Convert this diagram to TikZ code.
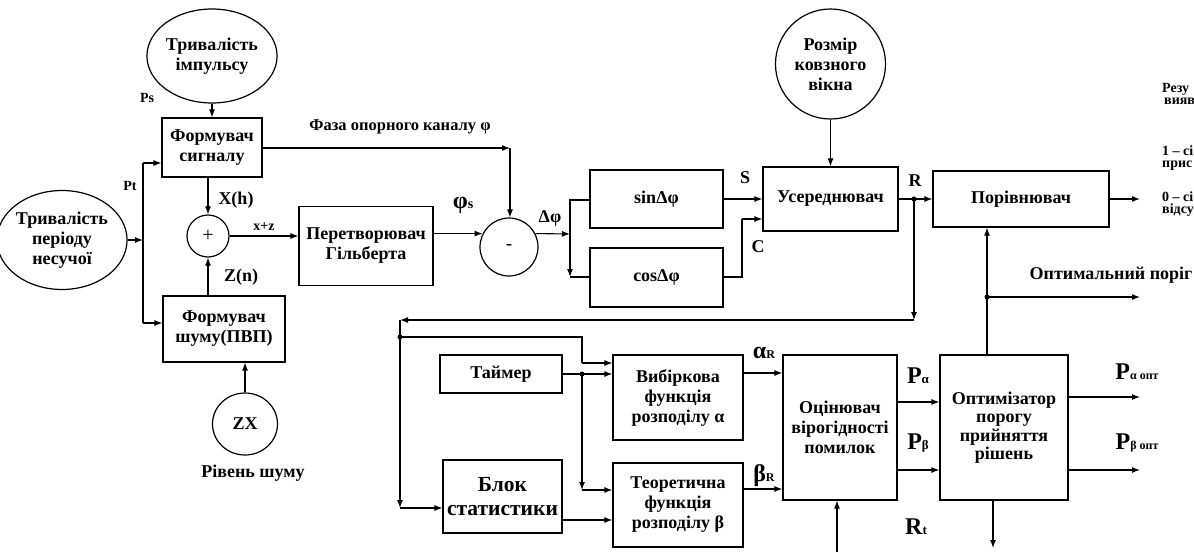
\documentclass[tikz,border=0pt]{standalone}
\usepackage{fontspec}
\setmainfont{Liberation Serif}
\usetikzlibrary{arrows.meta,shapes.geometric}
\begin{document}
\begin{tikzpicture}[x=1pt,y=-1pt,
  txt/.style={font=\bfseries\fontsize{18}{20}\selectfont},
  box/.style={draw, line width=1.2pt, rectangle, align=center, inner sep=0pt, txt},
  oval/.style={draw, line width=1.2pt, ellipse, align=center, inner sep=0pt, txt},
  ln/.style={line width=1.1pt},
  arr/.style={line width=1.1pt, -{Latex[length=8pt,width=6pt]}},
  dot/.style={circle, fill, inner sep=0pt, minimum size=5pt},
  lbl/.style={inner sep=0pt, txt},
  slbl/.style={inner sep=0pt, font=\bfseries\fontsize{14}{16}\selectfont},
  rtxt/.style={inner sep=0pt, anchor=west, align=left, font=\bfseries\fontsize{14}{12.5}\selectfont}]
\useasboundingbox (0,0) rectangle (1194,552);

% ---------- nodes ----------
\node[oval, minimum width=104pt, minimum height=94pt] (cImp) at (212,56) {Тривалість\\імпульсу};
\node[oval, minimum width=108pt, minimum height=99pt] (cPer) at (62,240) {Тривалість\\періоду\\несучої};
\node[box, minimum width=100pt, minimum height=59pt] (bSig) at (212,147.5) {Формувач\\сигналу};
\node[draw, circle, line width=1.2pt, minimum size=42pt, inner sep=0pt, font=\fontsize{20}{20}\selectfont] (sum) at (208,236) {+};
\node[box, minimum width=122pt, minimum height=66pt] (bNoise) at (224,329) {Формувач\\шуму(ПВП)};
\node[oval, minimum width=65pt, minimum height=62pt] (cZX) at (245,424) {ZX};
\node[box, minimum width=134pt, minimum height=79pt] (bHil) at (366,246) {Перетворювач\\Гільберта};
\node[draw, circle, line width=1.2pt, minimum size=58pt, inner sep=0pt, txt] (minus) at (509,247) {-};
\node[box, minimum width=133pt, minimum height=58pt] (bSin) at (656.5,199) {sinΔφ};
\node[box, minimum width=133pt, minimum height=59pt] (bCos) at (656.5,277.5) {cosΔφ};
\node[box, minimum width=135pt, minimum height=64pt] (bAvg) at (830.5,199) {Усереднювач};
\node[oval, minimum width=110pt, minimum height=110pt] (cWin) at (830.5,64) {Розмір\\ковзного\\вікна};
\node[box, minimum width=176pt, minimum height=56pt] (bCmp) at (1021,199) {Порівнювач};
\node[box, minimum width=122pt, minimum height=38pt] (bTim) at (501,374) {Таймер};
\node[box, minimum width=130pt, minimum height=85pt] (bSel) at (678,397.5) {Вибіркова\\функція\\розподілу α};
\node[box, minimum width=119pt, minimum height=73pt, font=\bfseries\fontsize{21.5}{24}\selectfont] (bStat) at (502.5,496.5) {Блок\\статистики};
\node[box, minimum width=130pt, minimum height=84pt] (bTheo) at (678,505) {Теоретична\\функція\\розподілу β};
\node[box, minimum width=114pt, minimum height=145pt] (bEst) at (840,427.5) {Оцінювач\\вірогідності\\помилок};
\node[box, minimum width=128pt, minimum height=145pt, font=\bfseries\fontsize{18}{18.5}\selectfont] (bOpt) at (1004,427.5) {Оптимізатор\\порогу\\прийняття\\рішень};

% ---------- coordinates ----------
\coordinate (busTop) at (143,163);
\coordinate (busIn) at (143,240);
\coordinate (busBot) at (143,323);
\coordinate (phCorner) at (510,148);
\coordinate (splitIn) at (570,234);
\coordinate (splitTop) at (570,200);
\coordinate (splitBot) at (570,277);
\coordinate (cCornerA) at (742,277);
\coordinate (cCornerB) at (742,219);
\coordinate (rDot) at (914,199);
\coordinate (fbCorner) at (914,320);
\coordinate (leftCorner) at (400,320);
\coordinate (busDot) at (400,337);
\coordinate (statCorner) at (400,508);
\coordinate (selCornerA) at (582,337);
\coordinate (selCornerB) at (582,363);
\coordinate (timDot) at (582,374);
\coordinate (theoCorner) at (582,490);
\coordinate (optDot) at (987,297);
\coordinate (optOut) at (1140,297);
\coordinate (cmpOut) at (1140,199);
\coordinate (paOut) at (1140,397);
\coordinate (pbOut) at (1140,470);
\coordinate (optDown) at (993,548);
\coordinate (rtIn) at (837,552);

% ---------- connectors ----------
\draw[arr] (cImp.south) -- (bSig.north);
\draw[arr] (cPer.east) -- (busIn);
\draw[ln] (busBot) -- (busTop);
\draw[arr] (busTop) -- (busTop -| bSig.west);
\draw[arr] (busBot) -- (busBot -| bNoise.west);
\draw[arr] (bSig.south -| sum.north) -- (sum.north);
\draw[arr] (bNoise.north -| sum.south) -- (sum.south);
\draw[arr] (cZX.north) -- (cZX.north |- bNoise.south);
\draw[arr] (sum.east) -- (sum.east -| bHil.west);
\draw[arr] (bHil.east |- minus.153) -- (minus.153);
\draw[arr] (bSig.east |- phCorner) -- (phCorner);
\draw[arr] (phCorner) -- (phCorner |- minus.north);
\draw[arr] (minus.27) -- (splitIn);
\draw[ln] (splitTop -| bSin.west) -- (splitTop) -- (splitIn);
\draw[arr] (splitIn) -- (splitBot);
\draw[ln] (splitBot) -- (splitBot -| bCos.west);
\draw[arr] (bSin.east) -- (bAvg.west);
\draw[ln] (bCos.east |- cCornerA) -- (cCornerA) -- (cCornerB);
\draw[arr] (cCornerB) -- (cCornerB -| bAvg.west);
\draw[arr] (cWin.south) -- (bAvg.north);
\draw[arr] (bAvg.east) -- (bCmp.west);
\draw[arr] (bCmp.east) -- (cmpOut);
\draw[arr] (rDot) -- (fbCorner);
\draw[arr] (fbCorner) -- (leftCorner);
\draw[arr] (leftCorner) -- (statCorner);
\draw[arr] (statCorner) -- (statCorner -| bStat.west);
\draw[ln] (busDot) -- (selCornerA) -- (selCornerB);
\draw[arr] (selCornerB) -- (selCornerB -| bSel.west);
\draw[arr] (bTim.east) -- (bTim.east -| bSel.west);
\draw[arr] (timDot) -- (theoCorner);
\draw[arr] (theoCorner) -- (theoCorner -| bTheo.west);
\draw[arr] (bStat.east |- 0,520) -- (bTheo.west |- 0,520);
\draw[arr] (bSel.east |- 0,373) -- (bEst.west |- 0,373);
\draw[arr] (bTheo.east |- 0,489) -- (bEst.west |- 0,489);
\draw[arr] (bEst.east |- 0,402) -- (bOpt.west |- 0,402);
\draw[arr] (bEst.east |- 0,470) -- (bOpt.west |- 0,470);
\draw[arr] (rtIn) -- (rtIn |- bEst.south);
\draw[arr] (optDot |- bOpt.north) -- (optDot |- bCmp.south);
\draw[arr] (optDot) -- (optOut);
\draw[arr] (bOpt.east |- paOut) -- (paOut);
\draw[arr] (bOpt.east |- pbOut) -- (pbOut);
\draw[arr] (optDown |- bOpt.south) -- (optDown);

\node[dot] at (rDot) {};
\node[dot] at (busDot) {};
\node[dot] at (timDot) {};
\node[dot] at (optDot) {};

% ---------- labels ----------
\node[slbl] (lPs) at (147,98) {Ps};
\node[slbl] (lPt) at (130,186) {Pt};
\node[lbl, font=\bfseries\fontsize{16.5}{18}\selectfont] (lPhase) at (400,127) {Фаза опорного каналу φ};
\node[lbl] (lXh) at (236,200) {X(h)};
\node[slbl] (lxz) at (264,227) {x+z};
\node[lbl] (lZn) at (241,277) {Z(n)};
\node[lbl] (lNoise) at (253,473) {Рівень шуму};
\node[lbl] (lPhis) at (463,205) {{\fontsize{24}{24}\selectfont φ}{\fontsize{14}{14}\selectfont s}};
\node[lbl] (lDphi) at (550,218) {Δφ};
\node[lbl] (lS) at (745,178) {S};
\node[lbl] (lC) at (758,247) {C};
\node[lbl] (lR) at (915,181) {R};
\node[lbl] (lAR) at (764,353) {{\fontsize{24}{24}\selectfont α}{\fontsize{12}{12}\selectfont R}};
\node[lbl] (lBR) at (764,476) {{\fontsize{24}{24}\selectfont β}{\fontsize{12}{12}\selectfont R}};
\node[lbl] (lPa) at (918,376) {{\fontsize{24}{24}\selectfont P}{\fontsize{13}{13}\selectfont α}};
\node[lbl] (lPb) at (918,443) {{\fontsize{24}{24}\selectfont P}{\fontsize{13}{13}\selectfont β}};
\node[lbl] (lRt) at (916,527) {{\fontsize{24}{24}\selectfont R}{\fontsize{13}{13}\selectfont t}};
\node[lbl] (lOpt) at (1111,275) {Оптимальний поріг};
\node[lbl] (lPaO) at (1137,372) {{\fontsize{24}{24}\selectfont P}{\fontsize{12}{12}\selectfont α опт}};
\node[lbl] (lPbO) at (1137,443) {{\fontsize{24}{24}\selectfont P}{\fontsize{12}{12}\selectfont β опт}};

\node[rtxt] (r1) at (1162,94) {Резу\\\hspace{2pt}вияв};
\node[rtxt] (r2) at (1162,158) {1 – сі\\прис};
\node[rtxt] (r3) at (1162,204) {0 – сі\\відсу};
\end{tikzpicture}
\end{document}
